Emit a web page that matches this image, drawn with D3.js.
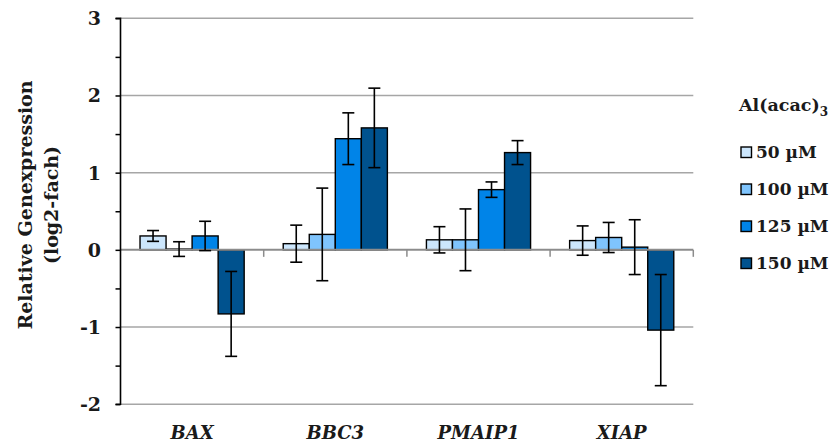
<!DOCTYPE html>
<html><head><meta charset="utf-8">
<script src="https://cdn.jsdelivr.net/npm/d3@7"></script>
<style>
body{margin:0;background:#fff;}
text{font-family:"DejaVu Serif",serif;font-weight:bold;fill:#1a1a1a;}
</style></head>
<body><svg id="c" width="835" height="443"></svg>
<script>
const genes = ["BAX","BBC3","PMAIP1","XIAP"];
const seriesNames = ["50 µM","100 µM","125 µM","150 µM"];
const colors = ["#cce6fc","#7fc4fd","#0084e8","#00528e"];
const v50  = [0.18, 0.08, 0.13, 0.12];
const v100 = [0.01, 0.20, 0.13, 0.16];
const v125 = [0.18, 1.44, 0.78, 0.035];
const v150 = [-0.83, 1.58, 1.26, -1.04];
const e50  = [0.07, 0.24, 0.17, 0.19];
const e100 = [0.095, 0.60, 0.40, 0.195];
const e125 = [0.19, 0.335, 0.10, 0.355];
const e150 = [0.55, 0.515, 0.155, 0.72];
const yTicks = [-2,-1,0,1,2,3];

const values = [v50,v100,v125,v150];
const errors = [e50,e100,e125,e150];

const svg = d3.select("#c");
const L = 120.5, R = 693.3;
const y = d3.scaleLinear().domain([-2,3]).range([404.2,18.3]);
const x0 = d3.scaleBand().domain(genes).range([L,R]).padding(0);
const x1 = d3.scaleBand().domain(seriesNames).range([0,x0.bandwidth()]).paddingInner(0).paddingOuter(0.75);

// gridlines
svg.append("g").selectAll("line").data(yTicks.filter(d=>d!==0)).join("line")
  .attr("x1",L).attr("x2",R).attr("y1",d=>y(d)).attr("y2",d=>y(d))
  .attr("stroke","#a6a6a6").attr("stroke-width",1.5);

// bars
const data = [];
genes.forEach((g,i)=>seriesNames.forEach((s,j)=>data.push({g,s,j,v:values[j][i],e:errors[j][i]})));
svg.append("g").selectAll("rect").data(data).join("rect")
  .attr("x",d=>x0(d.g)+x1(d.s)).attr("width",x1.bandwidth())
  .attr("y",d=>y(Math.max(0,d.v))).attr("height",d=>Math.abs(y(d.v)-y(0)))
  .attr("fill",d=>colors[d.j]).attr("stroke","#000").attr("stroke-width",1.4);

// zero axis
svg.append("line").attr("x1",L).attr("x2",R).attr("y1",y(0)).attr("y2",y(0))
  .attr("stroke","#8c8c8c").attr("stroke-width",2);
svg.append("g").selectAll("line").data(genes).join("line")
  .attr("x1",d=>x0(d)+x0.bandwidth()).attr("x2",d=>x0(d)+x0.bandwidth())
  .attr("y1",y(0)).attr("y2",y(0)+7).attr("stroke","#8c8c8c").attr("stroke-width",1.5);

// error bars
const eb = svg.append("g").attr("stroke","#000").attr("stroke-width",1.6);
data.forEach(d=>{
  const cx = x0(d.g)+x1(d.s)+x1.bandwidth()/2;
  eb.append("line").attr("x1",cx).attr("x2",cx).attr("y1",y(d.v+d.e)).attr("y2",y(d.v-d.e));
  [d.v+d.e,d.v-d.e].forEach(t=>eb.append("line").attr("x1",cx-6).attr("x2",cx+6).attr("y1",y(t)).attr("y2",y(t)));
});

// y axis
const ya = d3.axisLeft(y).tickValues(d3.range(-2,3.01,0.5)).tickSize(5).tickFormat("");
const yg = svg.append("g").attr("transform",`translate(${L},0)`).call(ya);
yg.select(".domain").attr("stroke","#000").attr("stroke-width",1.6).attr("d",`M-5,${y(3)}H0V${y(-2)}H-5`);
yg.selectAll(".tick line").attr("stroke","#000").attr("stroke-width",1.5);
svg.append("g").selectAll("text").data(yTicks).join("text")
  .attr("x",101).attr("y",d=>y(d)).attr("dy","0.36em").attr("text-anchor","end")
  .attr("font-size",19).text(d=>d);

// category labels
svg.append("g").selectAll("text").data(genes).join("text")
  .attr("x",d=>x0(d)+x0.bandwidth()/2).attr("y",439).attr("text-anchor","middle")
  .attr("font-size",18).attr("font-style","italic").text(d=>d);

// y title
const yt = svg.append("text").attr("transform","translate(0,205) rotate(-90)").attr("text-anchor","middle").attr("font-size",19);
yt.append("tspan").attr("x",0).attr("y",32).text("Relative Genexpression");
yt.append("tspan").attr("x",0).attr("y",58).text("(log2-fach)");

// legend
const lt = svg.append("text").attr("x",739).attr("y",111).attr("font-size",17.5);
lt.append("tspan").text("Al(acac)");
lt.append("tspan").attr("font-size",12).attr("dy",5).text("3");
const lg = svg.append("g").selectAll("g").data(seriesNames).join("g")
  .attr("transform",(d,i)=>`translate(741,${147+i*37})`);
lg.append("rect").attr("width",10.5).attr("height",10.5).attr("fill",(d,i)=>colors[i]).attr("stroke","#000").attr("stroke-width",1.4);
lg.append("text").attr("x",15).attr("y",11).attr("font-size",17).text(d=>d);
</script></body></html>
